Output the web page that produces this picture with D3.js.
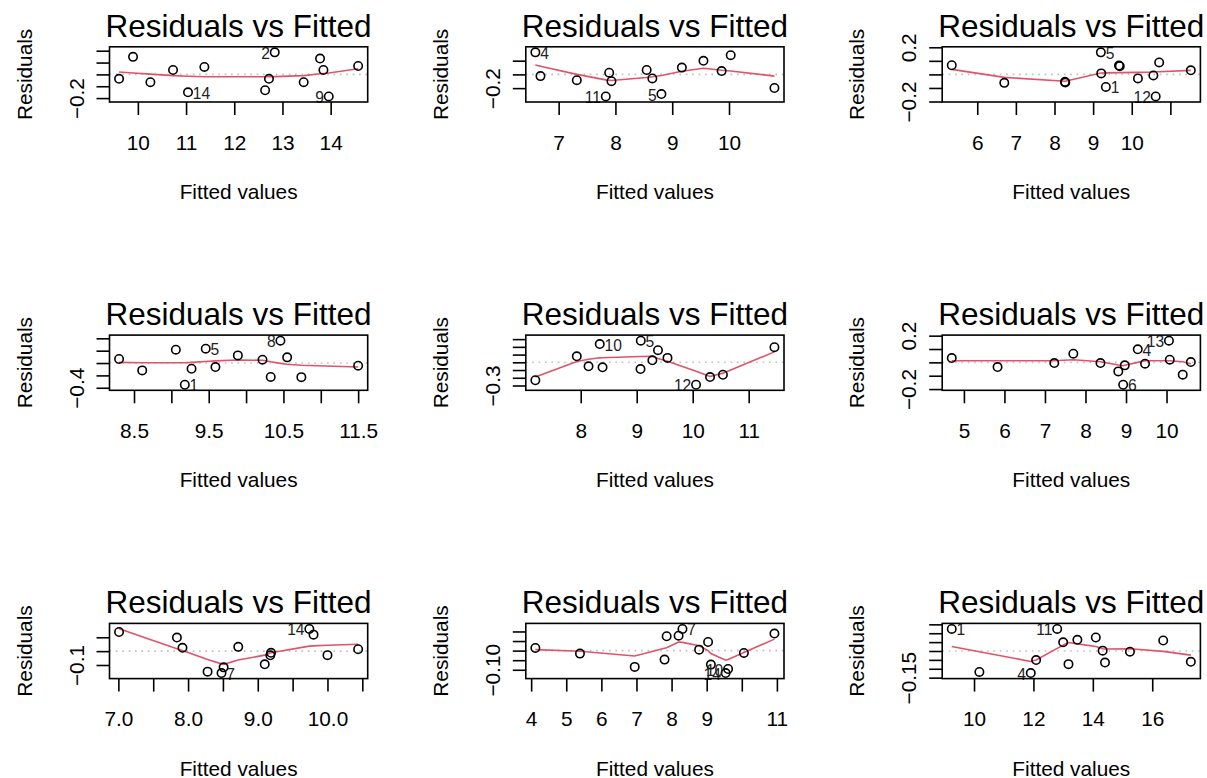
<!DOCTYPE html>
<html><head><meta charset="utf-8">
<script src="https://cdn.jsdelivr.net/npm/d3@7"></script>
<style>
body{margin:0;background:#fff}
svg text{font-family:"Liberation Sans",Arial,Helvetica,sans-serif;fill:#000}
</style>
</head><body>
<svg id="c" width="1207" height="778"></svg>
<script>
// ---------- DATA ----------
const captionText = "Residuals vs Fitted";
const xLabelText = "Fitted values";
const yLabelText = "Residuals";

// Panel 1
const p1Fitted = [9.61, 9.90, 10.26, 10.73, 11.04, 11.38, 12.64, 12.72, 12.84, 13.44, 13.78, 13.85, 13.96, 14.57];
const p1Resid  = [-0.037, 0.148, -0.066, 0.037, -0.151, 0.063, -0.134, -0.037, 0.186, -0.066, 0.134, 0.037, -0.186, 0.071];
const p1Smooth = [0.02, 0.012, 0.002, -0.01, -0.015, -0.02, -0.02, -0.02, -0.019, -0.01, 0.005, 0.008, 0.012, 0.048];
const p1Ids = [4, 8, 12];
const p1IdLabels = ["14", "2", "9"];
const p1XTicks = [10, 11, 12, 13, 14];
const p1XTickLabels = ["10", "11", "12", "13", "14"];
const p1YTicks = [-0.2, -0.1, 0, 0.1, 0.2];
const p1YTickLabels = ["\u22120.2", "", "", "", ""];

// Panel 2
const p2Fitted = [6.59, 6.68, 7.32, 7.83, 7.89, 7.93, 8.55, 8.65, 8.81, 9.17, 9.55, 9.87, 10.03, 10.80];
const p2Resid  = [0.321, -0.025, -0.084, -0.321, 0.025, -0.099, 0.064, -0.059, -0.286, 0.099, 0.198, 0.049, 0.28, -0.198];
const p2Smooth = [0.138, 0.12, 0.0, -0.08, -0.085, -0.088, -0.045, -0.035, -0.015, 0.045, 0.089, 0.06, 0.05, -0.025];
const p2Ids = [0, 3, 8];
const p2IdLabels = ["4", "11", "5"];
const p2XTicks = [7, 8, 9, 10];
const p2XTickLabels = ["7", "8", "9", "10"];
const p2YTicks = [-0.2, 0, 0.2];
const p2YTickLabels = ["\u22120.2", "", ""];

// Panel 3
const p3Fitted = [5.34, 6.70, 8.27, 8.28, 9.20, 9.21, 9.33, 9.67, 9.69, 10.16, 10.56, 10.62, 10.71, 11.53];
const p3Resid  = [0.0675, -0.0625, -0.055, -0.06, 0.1625, 0.0075, -0.0925, 0.065, 0.06, -0.03, -0.0075, -0.1625, 0.088, 0.03];
const p3Smooth = [0.037, -0.022, -0.05, -0.05, 0.01, 0.01, 0.011, 0.013, 0.013, 0.015, 0.018, 0.019, 0.02, 0.03];
const p3Ids = [4, 6, 11];
const p3IdLabels = ["5", "1", "12"];
const p3XTicks = [6, 7, 8, 9, 10, 11];
const p3XTickLabels = ["6", "7", "8", "9", "10", ""];
const p3YTicks = [-0.2, -0.1, 0, 0.1, 0.2];
const p3YTickLabels = ["\u22120.2", "", "", "", "0.2"];

// Panel 4
const p4Fitted = [8.30, 8.61, 9.06, 9.18, 9.27, 9.46, 9.59, 9.89, 10.22, 10.33, 10.46, 10.55, 10.74, 11.50];
const p4Resid  = [0.065, -0.119, 0.216, -0.351, -0.092, 0.232, -0.065, 0.124, 0.054, -0.225, 0.362, 0.092, -0.228, -0.043];
const p4Smooth = [0.01, 0.005, 0.005, 0.005, 0.01, 0.025, 0.035, 0.05, 0.045, 0.02, -0.005, -0.02, -0.035, -0.065];
const p4Ids = [3, 5, 10];
const p4IdLabels = ["1", "5", "8"];
const p4XTicks = [8.5, 9, 9.5, 10, 10.5, 11, 11.5];
const p4XTickLabels = ["8.5", "", "9.5", "", "10.5", "", "11.5"];
const p4YTicks = [-0.4, -0.2, 0, 0.2, 0.4];
const p4YTickLabels = ["\u22120.4", "", "", "", ""];

// Panel 5
const p5Fitted = [7.19, 7.93, 8.14, 8.34, 8.39, 9.068, 9.073, 9.28, 9.38, 9.55, 10.06, 10.31, 10.54, 11.46];
const p5Resid  = [-0.232, 0.078, -0.052, 0.236, -0.065, -0.087, 0.28, 0.026, 0.157, 0.057, -0.29, -0.191, -0.161, 0.196];
const p5Smooth = [-0.19, 0.01, 0.04, 0.058, 0.06, 0.075, 0.075, 0.078, 0.048, 0.013, -0.117, -0.183, -0.14, 0.135];
const p5Ids = [3, 6, 10];
const p5IdLabels = ["10", "5", "12"];
const p5XTicks = [8, 9, 10, 11];
const p5XTickLabels = ["8", "9", "10", "11"];
const p5YTicks = [-0.3, -0.2, -0.1, 0, 0.1, 0.2, 0.3];
const p5YTickLabels = ["\u22120.3", "", "", "", "", "", ""];

// Panel 6
const p6Fitted = [4.70, 5.83, 7.23, 7.70, 8.37, 8.81, 8.93, 8.97, 9.29, 9.47, 10.06, 10.08, 10.40, 10.60];
const p6Resid  = [0.0325, -0.035, -0.005, 0.065, -0.005, -0.0675, -0.1675, -0.0225, 0.098, -0.01, 0.1625, 0.02, -0.092, 0.0025];
const p6Smooth = [0.012, 0.012, 0.012, 0.02, 0.005, -0.02, -0.025, -0.022, 0.0, 0.012, 0.012, 0.012, 0.005, -0.01];
const p6Ids = [6, 8, 10];
const p6IdLabels = ["6", "4", "13"];
const p6XTicks = [5, 6, 7, 8, 9, 10];
const p6XTickLabels = ["5", "6", "7", "8", "9", "10"];
const p6YTicks = [-0.2, -0.1, 0, 0.1, 0.2];
const p6YTickLabels = ["\u22120.2", "", "", "", "0.2"];

// Panel 7
const p7Fitted = [7.01, 7.84, 7.92, 8.28, 8.48, 8.51, 8.72, 9.10, 9.18, 9.19, 9.74, 9.80, 10.00, 10.44];
const p7Resid  = [0.138, 0.098, 0.024, -0.148, -0.158, -0.117, 0.031, -0.095, -0.03, -0.012, 0.16, 0.119, -0.029, 0.014];
const p7Smooth = [0.162, 0.018, 0.004, -0.06, -0.092, -0.095, -0.064, -0.029, -0.014, -0.012, 0.036, 0.038, 0.043, 0.05];
const p7Ids = [4, 10];
const p7IdLabels = ["7", "14"];
const p7XTicks = [7, 7.5, 8, 8.5, 9, 9.5, 10, 10.5];
const p7XTickLabels = ["7.0", "", "8.0", "", "9.0", "", "10.0", ""];
const p7YTicks = [-0.1, 0, 0.1];
const p7YTickLabels = ["\u22120.1", "", ""];

// Panel 8
const p8Fitted = [4.12, 5.39, 6.95, 7.80, 7.86, 8.20, 8.31, 8.785, 9.04, 9.12, 9.54, 9.61, 10.06, 10.93];
const p8Resid  = [0.014, -0.0157, -0.085, -0.047, 0.075, 0.078, 0.113, 0.005, 0.045, -0.073, -0.117, -0.096, -0.012, 0.089];
const p8Smooth = [0.005, -0.003, -0.028, 0.012, 0.015, 0.045, 0.043, 0.025, 0.0, -0.015, -0.05, -0.046, -0.01, 0.06];
const p8Ids = [6, 10, 11];
const p8IdLabels = ["7", "14", "10"];
const p8XTicks = [4, 5, 6, 7, 8, 9, 10, 11];
const p8XTickLabels = ["4", "5", "6", "7", "8", "9", "", "11"];
const p8YTicks = [-0.10, -0.05, 0, 0.05, 0.10];
const p8YTickLabels = ["\u22120.10", "", "", "", ""];

// Panel 9
const p9Fitted = [9.25, 10.18, 11.91, 12.09, 12.80, 13.00, 13.18, 13.48, 14.10, 14.33, 14.41, 15.25, 16.37, 17.30];
const p9Resid  = [0.124, -0.118, -0.124, -0.051, 0.124, 0.049, -0.074, 0.063, 0.076, 0.002, -0.065, -0.004, 0.059, -0.061];
const p9Smooth = [0.025, -0.004, -0.059, -0.051, 0.015, 0.032, 0.048, 0.04, 0.025, 0.013, 0.011, 0.013, -0.002, -0.023];
const p9Ids = [0, 2, 4];
const p9IdLabels = ["1", "4", "11"];
const p9XTicks = [10, 12, 14, 16];
const p9XTickLabels = ["10", "12", "14", "16"];
const p9YTicks = [-0.15, -0.10, -0.05, 0, 0.05, 0.10, 0.15];
const p9YTickLabels = ["\u22120.15", "", "", "", "", "", ""];

// ---------- assemble ----------
const panels = [
  {fitted:p1Fitted,resid:p1Resid,smooth:p1Smooth,ids:p1Ids,idLabels:p1IdLabels,xTicks:p1XTicks,xTickLabels:p1XTickLabels,yTicks:p1YTicks,yTickLabels:p1YTickLabels},
  {fitted:p2Fitted,resid:p2Resid,smooth:p2Smooth,ids:p2Ids,idLabels:p2IdLabels,xTicks:p2XTicks,xTickLabels:p2XTickLabels,yTicks:p2YTicks,yTickLabels:p2YTickLabels},
  {fitted:p3Fitted,resid:p3Resid,smooth:p3Smooth,ids:p3Ids,idLabels:p3IdLabels,xTicks:p3XTicks,xTickLabels:p3XTickLabels,yTicks:p3YTicks,yTickLabels:p3YTickLabels},
  {fitted:p4Fitted,resid:p4Resid,smooth:p4Smooth,ids:p4Ids,idLabels:p4IdLabels,xTicks:p4XTicks,xTickLabels:p4XTickLabels,yTicks:p4YTicks,yTickLabels:p4YTickLabels},
  {fitted:p5Fitted,resid:p5Resid,smooth:p5Smooth,ids:p5Ids,idLabels:p5IdLabels,xTicks:p5XTicks,xTickLabels:p5XTickLabels,yTicks:p5YTicks,yTickLabels:p5YTickLabels},
  {fitted:p6Fitted,resid:p6Resid,smooth:p6Smooth,ids:p6Ids,idLabels:p6IdLabels,xTicks:p6XTicks,xTickLabels:p6XTickLabels,yTicks:p6YTicks,yTickLabels:p6YTickLabels},
  {fitted:p7Fitted,resid:p7Resid,smooth:p7Smooth,ids:p7Ids,idLabels:p7IdLabels,xTicks:p7XTicks,xTickLabels:p7XTickLabels,yTicks:p7YTicks,yTickLabels:p7YTickLabels},
  {fitted:p8Fitted,resid:p8Resid,smooth:p8Smooth,ids:p8Ids,idLabels:p8IdLabels,xTicks:p8XTicks,xTickLabels:p8XTickLabels,yTicks:p8YTicks,yTickLabels:p8YTickLabels},
  {fitted:p9Fitted,resid:p9Resid,smooth:p9Smooth,ids:p9Ids,idLabels:p9IdLabels,xTicks:p9XTicks,xTickLabels:p9XTickLabels,yTicks:p9YTicks,yTickLabels:p9YTickLabels}
];

// ---------- layout ----------
const colLeft = [109.5, 525.8, 942.2];
const boxW = 258.2;
const rowTop = [46.8, 335.1, 623.4];
const boxH = 55.2;
const LAB = 20.8, TITLE = 31.5, IDF = 15.6;
const tickLen = 13;
const svg = d3.select("#c");

panels.forEach((p, i) => {
  const col = i % 3, row = Math.floor(i / 3);
  const x0 = colLeft[col], x1 = x0 + boxW, y0 = rowTop[row], y1 = y0 + boxH;
  const cx = (x0 + x1) / 2, cy = (y0 + y1) / 2;

  const [fmin, fmax] = d3.extent(p.fitted); const fr = fmax - fmin;
  const x = d3.scaleLinear().domain([fmin - 0.04 * fr, fmax + 0.04 * fr]).range([x0, x1]);
  let [rmin, rmax] = d3.extent(p.resid); let rr = rmax - rmin;
  rmin -= 0.08 * rr; rmax += 0.08 * rr; rr = rmax - rmin;
  const y = d3.scaleLinear().domain([rmin - 0.04 * rr, rmax + 0.04 * rr]).range([y1, y0]);

  const g = svg.append("g");

  // zero reference line (dotted grey)
  g.append("line").attr("x1", x0).attr("x2", x1).attr("y1", y(0)).attr("y2", y(0))
    .attr("stroke", "#bebebe").attr("stroke-width", 1.6).attr("stroke-dasharray", "1.6,4.8");

  // smooth
  g.append("path").datum(p.fitted.map((f, k) => [f, p.smooth[k]]))
    .attr("d", d3.line().x(d => x(d[0])).y(d => y(d[1])))
    .attr("fill", "none").attr("stroke", "#DF536B").attr("stroke-width", 1.6);

  // points
  g.selectAll("circle.pt").data(p.fitted.map((f, k) => [f, p.resid[k]])).enter()
    .append("circle").attr("class", "pt")
    .attr("cx", d => x(d[0])).attr("cy", d => y(d[1])).attr("r", 4.2)
    .attr("fill", "none").attr("stroke", "#000").attr("stroke-width", 1.6);

  // id labels (R text.id rule: left of point when x > mean(range(labelled x)))
  const lx = p.ids.map(k => p.fitted[k]);
  const midLab = (d3.min(lx) + d3.max(lx)) / 2;
  p.ids.forEach((k, j) => {
    const left = p.fitted[k] > midLab;
    g.append("text")
      .attr("x", x(p.fitted[k]) + (left ? -4.8 : 4.8))
      .attr("y", y(p.resid[k]) + 6.5)
      .attr("text-anchor", left ? "end" : "start")
      .attr("font-size", IDF).style("fill", "#222")
      .text(p.idLabels[j]);
  });

  // box
  g.append("rect").attr("x", x0).attr("y", y0).attr("width", boxW).attr("height", boxH)
    .attr("fill", "none").attr("stroke", "#000").attr("stroke-width", 1.6);

  // x axis
  const ax = g.append("g").attr("transform", `translate(0,${y1})`)
    .call(d3.axisBottom(x).tickValues(p.xTicks).tickFormat((d, k) => p.xTickLabels[k])
      .tickSize(tickLen).tickSizeOuter(0));
  ax.select(".domain").remove();
  ax.selectAll(".tick line").attr("stroke", "#000").attr("stroke-width", 1.6);
  ax.selectAll(".tick text").attr("y", 47.5).attr("dy", null)
    .attr("font-size", LAB).attr("font-family", null).style("fill", "#000");

  // y axis
  const ay = g.append("g").attr("transform", `translate(${x0},0)`)
    .call(d3.axisLeft(y).tickValues(p.yTicks).tickFormat((d, k) => p.yTickLabels[k])
      .tickSize(tickLen).tickSizeOuter(0));
  ay.select(".domain").remove();
  ay.selectAll(".tick line").attr("stroke", "#000").attr("stroke-width", 1.6);
  ay.selectAll(".tick text").attr("x", 0).attr("y", -26).attr("dy", null)
    .attr("transform", "rotate(-90)").attr("text-anchor", "middle")
    .attr("font-size", LAB).attr("font-family", null).style("fill", "#000");

  // title
  g.append("text").attr("x", cx).attr("y", y0 - 10).attr("text-anchor", "middle")
    .attr("font-size", TITLE).text(captionText);
  // axis titles
  g.append("text").attr("x", cx).attr("y", y1 + 97).attr("text-anchor", "middle")
    .attr("font-size", LAB).text(xLabelText);
  g.append("text").attr("transform", `translate(${x0 - 78},${cy}) rotate(-90)`)
    .attr("text-anchor", "middle").attr("font-size", LAB).text(yLabelText);
});
</script>
</body></html>
